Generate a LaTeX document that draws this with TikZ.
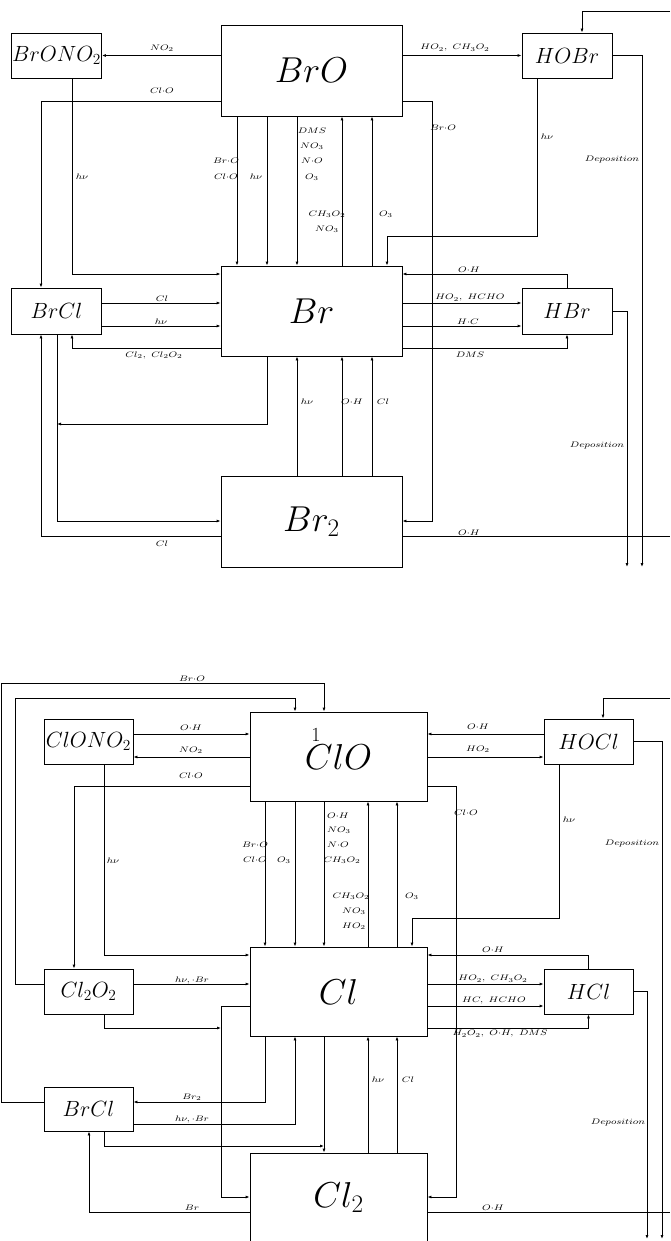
\RequirePackage{fix-cm}
\documentclass[tikz,border=0pt]{standalone}
\usetikzlibrary{arrows.meta}

\newcommand{\rlab}[1]{\scalebox{1.3}[1]{$#1$}}

\tikzset{
    box/.style={draw, inner sep=0pt},
    big/.style={box, minimum width=181pt, minimum height=91pt, font=\fontsize{36}{40}\selectfont},
    small/.style={box, minimum width=90pt, minimum height=45pt, font=\fontsize{22}{24}\selectfont},
    lbl/.style={font=\fontsize{8}{9}\selectfont, inner sep=0pt},
    arr/.style={-{Latex[length=4pt, width=3pt]}}
}

\begin{document}
\begin{tikzpicture}[x=1pt, y=-1pt, line width=0.8pt]
    \useasboundingbox (0,0) rectangle (670,1241);
    \clip (0,0) rectangle (670,1241);

    % ---------------- bromine ----------------
    \node[small] (BrONO2) at (56.5,55.5) {$BrONO_2$};
    \node[big]   (BrO)    at (311.5,70.5) {$BrO$};
    \node[small] (HOBr)   at (567,55.5) {$HOBr$};
    \node[small, minimum height=46pt] (BrCl) at (56.5,311) {$BrCl$};
    \node[big, minimum height=90pt]   (Br)   at (311.5,311) {$Br$};
    \node[small, minimum height=46pt] (HBr)  at (567,311) {$HBr$};
    \node[big]   (Br2)    at (311.5,521.5) {$Br_2$};

    \coordinate (depA) at (642,567);
    \coordinate (depB) at (627,567);
    \coordinate (inA) at (670,11);
    \coordinate (outA) at (670,536);
    \coordinate (jA) at (57,424);

    % BrO out
    \draw[arr] (BrO.west |- BrONO2) -- (BrONO2.east);
    \draw[arr] (BrO.east |- HOBr) -- (HOBr.west);
    \draw[arr] (BrO.west |- 0,101) -| (41,0 |- BrCl.north);
    \draw[arr] (BrO.east |- 0,101) -| (432,521) -- (Br2.east |- 0,521);
    \foreach \x in {237,267,297}
        \draw[arr] (\x,0 |- BrO.south) -- (\x,0 |- Br.north);
    \foreach \x in {342,372}
        \draw[arr] (\x,0 |- Br.north) -- (\x,0 |- BrO.south);

    % reservoirs
    \draw[arr] (72,0 |- BrONO2.south) |- (Br.west |- 0,274);
    \draw[arr] (537,0 |- HOBr.south) |- (387,236) -- (387,0 |- Br.north);
    \draw[arr] (HOBr.east) -| (depA);
    \draw[arr] (inA) -| (582,0 |- HOBr.north);

    % HBr
    \draw[arr] (HBr.north) |- (Br.east |- 0,274);
    \draw[arr] (Br.east |- 0,303) -- (HBr.west |- 0,303);
    \draw[arr] (Br.east |- 0,326) -- (HBr.west |- 0,326);
    \draw[arr] (Br.east |- 0,348) -| (HBr.south);
    \draw[arr] (HBr.east) -| (depB);

    % BrCl
    \draw[arr] (BrCl.east |- 0,303) -- (Br.west |- 0,303);
    \draw[arr] (BrCl.east |- 0,326) -- (Br.west |- 0,326);
    \draw[arr] (Br.west |- 0,348) -| (72,0 |- BrCl.south);
    \draw[arr] (267,0 |- Br.south) |- (jA);
    \draw[arr] (57,0 |- BrCl.south) |- (Br2.west |- 0,521);
    \draw[arr] (Br2.west |- 0,536) -| (41,0 |- BrCl.south);

    % Br2
    \foreach \x in {297,342,372}
        \draw[arr] (\x,0 |- Br2.north) -- (\x,0 |- Br.south);
    \draw (Br2.east |- 0,536) -- (outA);

    % labels
    \node[lbl] (tNOa)  at (162,48)  {\rlab{NO_2}};
    \node[lbl] (tHOa)  at (455,48)  {\rlab{HO_2,\ CH_3O_2}};
    \node[lbl] (tClOa) at (162,91)  {\rlab{Cl{\cdot}O}};
    \node[lbl] (thva)  at (82,177)  {\rlab{h\nu}};
    \node[lbl] (tBrOa) at (226,161) {\rlab{Br{\cdot}O}};
    \node[lbl] (tClOb) at (226,177) {\rlab{Cl{\cdot}O}};
    \node[lbl] (thvb)  at (256,177) {\rlab{h\nu}};
    \node[lbl] (tDMSa) at (312,131) {\rlab{DMS}};
    \node[lbl] (tNOb)  at (312,146) {\rlab{NO_3}};
    \node[lbl] (tNOc)  at (312,161) {\rlab{N{\cdot}O}};
    \node[lbl] (tOa)   at (312,177) {\rlab{O_3}};
    \node[lbl] (tCHa)  at (327,214) {\rlab{CH_3O_2}};
    \node[lbl] (tNOd)  at (327,229) {\rlab{NO_3}};
    \node[lbl] (tOb)   at (386,214) {\rlab{O_3}};
    \node[lbl] (tBrOb) at (443,128) {\rlab{Br{\cdot}O}};
    \node[lbl] (thvc)  at (547,137) {\rlab{h\nu}};
    \node[lbl] (tDepa) at (612,160) {\rlab{Deposition}};
    \node[lbl] (tOHa)  at (469,270) {\rlab{O{\cdot}H}};
    \node[lbl] (tHOb)  at (470,298) {\rlab{HO_2,\ HCHO}};
    \node[lbl] (tHCa)  at (468,322) {\rlab{H{\cdot}C}};
    \node[lbl] (tDMSb) at (470,355) {\rlab{DMS}};
    \node[lbl] (tDepb) at (597,446) {\rlab{Deposition}};
    \node[lbl] (tCla)  at (162,299) {\rlab{Cl}};
    \node[lbl] (thvd)  at (161,322) {\rlab{h\nu}};
    \node[lbl] (tClb)  at (154,355) {\rlab{Cl_2,\ Cl_2O_2}};
    \node[lbl] (thve)  at (307,402) {\rlab{h\nu}};
    \node[lbl] (tOHb)  at (352,402) {\rlab{O{\cdot}H}};
    \node[lbl] (tClc)  at (383,402) {\rlab{Cl}};
    \node[lbl] (tCld)  at (162,544) {\rlab{Cl}};
    \node[lbl] (tOHc)  at (469,533) {\rlab{O{\cdot}H}};

    % ---------------- chlorine ----------------
    \node[small, minimum width=89pt] (ClONO2) at (88.5,741.5) {$ClONO_2$};
    \node[big, minimum width=177pt, minimum height=89pt] (ClO) at (338.5,756.5) {$ClO$};
    \node[small, minimum width=89pt] (HOCl) at (588.5,741.5) {$HOCl$};
    \node[small, minimum width=89pt] (Cl2O2) at (88.5,991.5) {$Cl_2O_2$};
    \node[big, minimum width=177pt, minimum height=89pt] (Cl) at (338.5,991.5) {$Cl$};
    \node[small, minimum width=89pt] (HCl) at (588.5,991.5) {$HCl$};
    \node[small, minimum width=89pt, minimum height=44pt] (BrClb) at (88.5,1109) {$BrCl$};
    \node[big, minimum width=177pt, minimum height=89pt] (Cl2) at (338.5,1197.5) {$Cl_2$};
    \node[font=\fontsize{20}{22}\selectfont, inner sep=0pt] (one) at (316,735) {1};

    \coordinate (depC) at (662,1239);
    \coordinate (depD) at (647,1239);
    \coordinate (inB) at (670,698);
    \coordinate (outB) at (670,1212);
    \coordinate (jB) at (221,1028);
    \coordinate (jC) at (324,1146);

    % long loops into ClO
    \draw[arr] (BrClb.west |- 0,1102) -| (1,683) -| (324,0 |- ClO.north);
    \draw[arr] (Cl2O2.west |- 0,984) -| (15,698) -| (295,0 |- ClO.north);

    % ClONO2
    \draw[arr] (ClONO2.east |- 0,734) -- (ClO.west |- 0,734);
    \draw[arr] (ClO.west |- 0,757) -- (ClONO2.east |- 0,757);
    \draw[arr] (ClO.west |- 0,786) -| (74,0 |- Cl2O2.north);
    \draw[arr] (104,0 |- ClONO2.south) |- (Cl.west |- 0,955);

    % ClO <-> Cl
    \foreach \x in {265,295,324}
        \draw[arr] (\x,0 |- ClO.south) -- (\x,0 |- Cl.north);
    \foreach \x in {368,397}
        \draw[arr] (\x,0 |- Cl.north) -- (\x,0 |- ClO.south);
    \draw[arr] (ClO.east |- 0,786) -| (456,1197) -- (Cl2.east |- 0,1197);

    % HOCl
    \draw[arr] (HOCl.west |- 0,734) -- (ClO.east |- 0,734);
    \draw[arr] (ClO.east |- 0,757) -- (HOCl.west |- 0,757);
    \draw[arr] (559,0 |- HOCl.south) |- (412,918) -- (412,0 |- Cl.north);
    \draw[arr] (HOCl.east) -| (depC);
    \draw[arr] (inB) -| (603,0 |- HOCl.north);

    % HCl
    \draw[arr] (HCl.north) |- (Cl.east |- 0,955);
    \draw[arr] (Cl.east |- 0,984) -- (HCl.west |- 0,984);
    \draw[arr] (Cl.east |- 0,1006) -- (HCl.west |- 0,1006);
    \draw[arr] (Cl.east |- 0,1028) -| (HCl.south);
    \draw[arr] (HCl.east) -| (depD);

    % Cl2O2
    \draw[arr] (Cl2O2.east |- 0,984) -- (Cl.west |- 0,984);
    \draw[arr] (104,0 |- Cl2O2.south) |- (jB);
    \draw[arr] (Cl.west |- 0,1006) -| (221,1197) -- (Cl2.west |- 0,1197);

    % BrCl
    \draw[arr] (265,0 |- Cl.south) |- (BrClb.east |- 0,1102);
    \draw[arr] (BrClb.east |- 0,1124) -| (295,0 |- Cl.south);
    \draw[arr] (104,0 |- BrClb.south) |- (jC);
    \draw[arr] (324,0 |- Cl.south) -- (324,0 |- Cl2.north);
    \draw[arr] (Cl2.west |- 0,1212) -| (89,0 |- BrClb.south);

    % Cl2
    \foreach \x in {368,397}
        \draw[arr] (\x,0 |- Cl2.north) -- (\x,0 |- Cl.south);
    \draw (Cl2.east |- 0,1212) -- (outB);

    % labels
    \node[lbl] (uBrOa) at (192,679)  {\rlab{Br{\cdot}O}};
    \node[lbl] (uOHa)  at (191,728)  {\rlab{O{\cdot}H}};
    \node[lbl] (uNOa)  at (191,750)  {\rlab{NO_2}};
    \node[lbl] (uClOa) at (191,776)  {\rlab{Cl{\cdot}O}};
    \node[lbl] (uhva)  at (113,861)  {\rlab{h\nu}};
    \node[lbl] (uBrOb) at (255,845)  {\rlab{Br{\cdot}O}};
    \node[lbl] (uClOb) at (255,860)  {\rlab{Cl{\cdot}O}};
    \node[lbl] (uOa)   at (284,860)  {\rlab{O_3}};
    \node[lbl] (uOHb)  at (338,816)  {\rlab{O{\cdot}H}};
    \node[lbl] (uNOb)  at (339,830)  {\rlab{NO_3}};
    \node[lbl] (uNOc)  at (338,845)  {\rlab{N{\cdot}O}};
    \node[lbl] (uCHa)  at (342,860)  {\rlab{CH_3O_2}};
    \node[lbl] (uCHb)  at (351,896)  {\rlab{CH_3O_2}};
    \node[lbl] (uNOd)  at (354,911)  {\rlab{NO_3}};
    \node[lbl] (uHOa)  at (354,926)  {\rlab{HO_2}};
    \node[lbl] (uOb)   at (412,896)  {\rlab{O_3}};
    \node[lbl] (uClOc) at (466,813)  {\rlab{Cl{\cdot}O}};
    \node[lbl] (uhvb)  at (569,820)  {\rlab{h\nu}};
    \node[lbl] (uDepa) at (632,844)  {\rlab{Deposition}};
    \node[lbl] (uOHc)  at (478,727)  {\rlab{O{\cdot}H}};
    \node[lbl] (uHOb)  at (478,749)  {\rlab{HO_2}};
    \node[lbl] (uOHd)  at (493,950)  {\rlab{O{\cdot}H}};
    \node[lbl] (uHOc)  at (493,979)  {\rlab{HO_2,\ CH_3O_2}};
    \node[lbl] (uHCa)  at (494,1001) {\rlab{HC,\ HCHO}};
    \node[lbl] (uHHa)  at (500,1034) {\rlab{H_2O_2,\ O{\cdot}H,\ DMS}};
    \node[lbl] (uDepb) at (618,1123) {\rlab{Deposition}};
    \node[lbl] (uhvc)  at (378,1080) {\rlab{h\nu}};
    \node[lbl] (uCla)  at (408,1080) {\rlab{Cl}};
    \node[lbl] (uOHe)  at (493,1208) {\rlab{O{\cdot}H}};
    \node[lbl] (uhvd)  at (192,980)  {\rlab{h\nu,{\cdot}Br}};
    \node[lbl] (uBrb)  at (192,1097) {\rlab{Br_2}};
    \node[lbl] (uhve)  at (192,1119) {\rlab{h\nu,{\cdot}Br}};
    \node[lbl] (uBrc)  at (192,1208) {\rlab{Br}};
\end{tikzpicture}
\end{document}
